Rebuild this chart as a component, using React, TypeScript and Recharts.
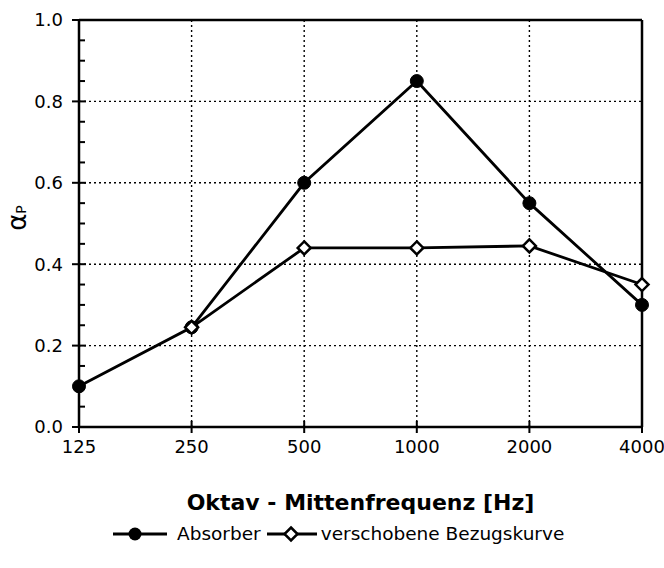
import React from "react";
import { LineChart, Line, XAxis, YAxis, ReferenceLine } from "recharts";

const FREQS = ["125", "250", "500", "1000", "2000", "4000"];
const ABSORBER = [0.1, 0.245, 0.6, 0.85, 0.55, 0.3];
const BEZUG = [null, 0.245, 0.44, 0.44, 0.445, 0.35];
const Y_TICKS = [0, 0.05, 0.1, 0.15, 0.2, 0.25, 0.3, 0.35, 0.4, 0.45, 0.5, 0.55, 0.6, 0.65, 0.7, 0.75, 0.8, 0.85, 0.9, 0.95, 1.0];
const GRID_Y = [0.2, 0.4, 0.6, 0.8];
const GRID_X = ["250", "500", "1000", "2000"];

const data = FREQS.map((f, i) => ({ freq: f, absorber: ABSORBER[i], bezug: BEZUG[i] }));

const FONT = "'DejaVu Sans', Arial, sans-serif";

const YTick = ({ x, y, payload }: any) => {
  const v = payload.value;
  const major = Math.abs(v * 5 - Math.round(v * 5)) < 1e-6;
  return (
    <g>
      {major ? (
        <line x1={x - 7} x2={x + 7} y1={y} y2={y} stroke="#000" strokeWidth={2} />
      ) : (
        <line x1={x} x2={x + 6} y1={y} y2={y} stroke="#000" strokeWidth={2} />
      )}
      {major && (
        <text x={x - 16} y={y} dy="0.36em" textAnchor="end" fontSize={18} fontFamily={FONT} fill="#000">
          {v.toFixed(1)}
        </text>
      )}
    </g>
  );
};

const XTick = ({ x, y, payload }: any) => (
  <g>
    <line x1={x} x2={x} y1={y - 6} y2={y + 6} stroke="#000" strokeWidth={2} />
    <text x={x} y={y + 20} dy="0.36em" textAnchor="middle" fontSize={18} fontFamily={FONT} fill="#000">
      {payload.value}
    </text>
  </g>
);

const FilledDot = ({ cx, cy }: any) =>
  cx == null || cy == null ? null : <circle cx={cx} cy={cy} r={6.5} fill="#000" stroke="#000" />;

const OpenDot = ({ cx, cy }: any) =>
  cx == null || cy == null ? null : (
    <polygon
      points={`${cx},${cy - 6.5} ${cx + 6.5},${cy} ${cx},${cy + 6.5} ${cx - 6.5},${cy}`}
      fill="#fff"
      stroke="#000"
      strokeWidth={2.5}
    />
  );

export default function App() {
  return (
    <div style={{ position: "absolute", left: 0, top: 0, width: 664, height: 568, background: "#fff" }}>
      <LineChart width={664} height={568} data={data} margin={{ top: 20, right: 22, bottom: 111, left: 19 }}>
        {GRID_Y.map((v) => (
          <ReferenceLine key={`gy-${v}`} y={v} stroke="#000" strokeWidth={1.4} strokeDasharray="2 3" />
        ))}
        {GRID_X.map((f) => (
          <ReferenceLine key={`gx-${f}`} x={f} stroke="#000" strokeWidth={1.4} strokeDasharray="2 3" />
        ))}
        <ReferenceLine y={1} stroke="#000" strokeWidth={2.5} />
        <ReferenceLine x="4000" stroke="#000" strokeWidth={2.5} />
        <XAxis
          dataKey="freq"
          height={30}
          axisLine={{ stroke: "#000", strokeWidth: 2.5 }}
          tickLine={false}
          tickSize={0}
          tickMargin={0}
          interval={0}
          tick={<XTick />}
        />
        <YAxis
          width={60}
          domain={[0, 1]}
          ticks={Y_TICKS}
          interval={0}
          axisLine={{ stroke: "#000", strokeWidth: 2.5 }}
          tickLine={false}
          tickSize={0}
          tickMargin={0}
          tick={<YTick />}
        />
        <Line
          dataKey="absorber"
          stroke="#000"
          strokeWidth={2.8}
          dot={<FilledDot />}
          activeDot={false}
          isAnimationActive={false}
        />
        <Line
          dataKey="bezug"
          stroke="#000"
          strokeWidth={2.8}
          dot={<OpenDot />}
          activeDot={false}
          isAnimationActive={false}
        />
      </LineChart>

      {/* y axis label */}
      <div
        style={{
          position: "absolute", left: 17, top: 218, transform: "translate(-50%, -50%) rotate(-90deg)",
          fontFamily: FONT, fontSize: 26, whiteSpace: "nowrap", color: "#000", lineHeight: 1,
        }}
      >
        α<span style={{ fontSize: 14 }}>P</span>
      </div>

      {/* x axis title */}
      <div
        style={{
          position: "absolute", left: 79, width: 563, top: 490, textAlign: "center",
          fontFamily: FONT, fontSize: 22, fontWeight: 700, color: "#000", whiteSpace: "nowrap",
        }}
      >
        Oktav - Mittenfrequenz [Hz]
      </div>

      {/* Legend */}
      <div style={{ position: "absolute", left: 113, top: 523, display: "flex", alignItems: "center", fontFamily: FONT, fontSize: 18.5, color: "#000" }}>
        <svg width={56} height={20}>
          <line x1={0} x2={54} y1={10} y2={10} stroke="#000" strokeWidth={2.8} />
          <circle cx={22} cy={10} r={6.5} fill="#000" />
        </svg>
        <span style={{ marginLeft: 8, whiteSpace: "nowrap" }}>Absorber</span>
        <svg width={50} height={20} style={{ marginLeft: 6 }}>
          <line x1={0} x2={50} y1={10} y2={10} stroke="#000" strokeWidth={2.8} />
          <polygon points="24,3.5 30.5,10 24,16.5 17.5,10" fill="#fff" stroke="#000" strokeWidth={2.5} />
        </svg>
        <span style={{ marginLeft: 4, whiteSpace: "nowrap" }}>verschobene Bezugskurve</span>
      </div>
    </div>
  );
}
